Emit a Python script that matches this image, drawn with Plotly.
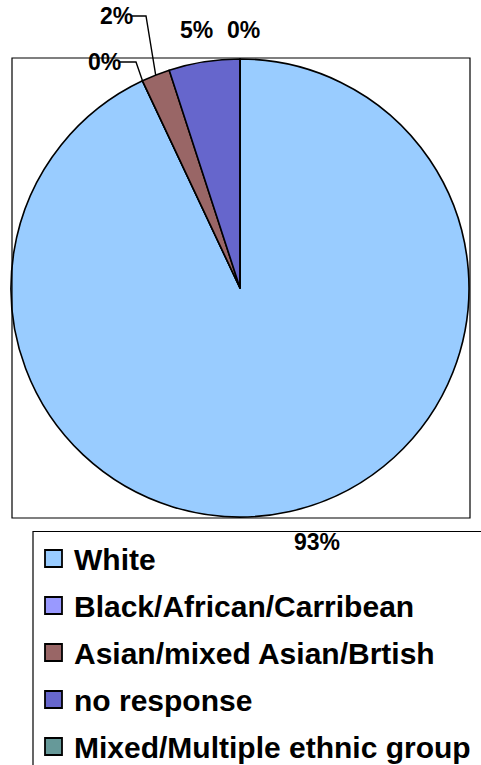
import math
import plotly.graph_objects as go

# Ethnic group breakdown (percent of respondents)
categories = [
    "White",
    "Black/African/Carribean",
    "Asian/mixed Asian/Brtish",
    "no response",
    "Mixed/Multiple ethnic group",
]
values = [93, 0, 2, 5, 0]
colors = ["#99CCFF", "#9999FF", "#996666", "#6666CC", "#669999"]

W, H = 481, 765
FONT = "Arial, Liberation Sans, sans-serif"

# plot area (pixels)
PX0, PY0, PX1, PY1 = 12, 58, 470, 518


def px(x):
    return x / W


def py(y):
    return 1 - y / H


total = sum(values)
pct = [f"{round(v / total * 100)}%" for v in values]

fig = go.Figure(
    go.Pie(
        labels=categories,
        values=values,
        sort=False,
        direction="clockwise",
        rotation=0,
        marker=dict(colors=colors, line=dict(color="black", width=1.6)),
        textinfo="none",
        hoverinfo="label+percent",
        showlegend=False,
        domain=dict(x=[px(PX0 - 1), px(PX1 - 1)], y=[py(PY1), py(PY0)]),
    )
)

# pie geometry in pixels, for anchoring leader lines on the rim
cx = (PX0 - 1 + PX1 - 1) / 2
cy = (PY0 + PY1) / 2
R = min(PX1 - PX0, PY1 - PY0) / 2


def rim_point(idx):
    start = sum(values[:idx]) / total * 360
    mid = start + values[idx] / total * 360 / 2
    a = math.radians(mid)
    return cx + R * math.sin(a), cy - R * math.cos(a)


shapes = []
annotations = []

# plot-area frame
shapes.append(dict(type="rect", xref="paper", yref="paper",
                   x0=px(PX0), y0=py(PY1), x1=px(PX1), y1=py(PY0),
                   line=dict(color="black", width=1.2), layer="above"))

# data labels: (index, label centre x, y, leader elbow x or None)
label_pos = [
    (0, 316.5, 542, None),
    (1, 104, 62, 136),
    (2, 116, 16, 146),
    (3, 196.5, 30, None),
    (4, 243, 30, None),
]
for idx, lx, ly, elbow in label_pos:
    annotations.append(dict(
        x=px(lx), y=py(ly), xref="paper", yref="paper",
        text=f"<b>{pct[idx]}</b>", showarrow=False,
        xanchor="center", yanchor="middle",
        font=dict(family=FONT, size=23, color="black"),
    ))
    if elbow is not None:
        rx, ry = rim_point(idx)
        sx = lx + 16
        path = (f"M {px(sx)} {py(ly)} L {px(elbow)} {py(ly)} "
                f"L {px(rx)} {py(ry)}")
        shapes.append(dict(type="path", xref="paper", yref="paper", path=path,
                           line=dict(color="black", width=1.4), layer="above"))

# legend frame (runs off the right and bottom edges)
shapes.append(dict(type="rect", xref="paper", yref="paper",
                   x0=px(33), y0=py(800), x1=px(520), y1=py(531.5),
                   line=dict(color="black", width=1.2)))

# legend entries
row0, row_gap = 558.5, 47
for i, (name, col) in enumerate(zip(categories, colors)):
    yc = row0 + i * row_gap
    shapes.append(dict(type="rect", xref="paper", yref="paper",
                       x0=px(45), x1=px(62), y0=py(yc + 8.5), y1=py(yc - 8.5),
                       fillcolor=col, line=dict(color="black", width=1.8)))
    annotations.append(dict(
        x=px(72), y=py(yc + 1), xref="paper", yref="paper",
        text=f"<b>{name}</b>", showarrow=False,
        xanchor="left", yanchor="middle",
        font=dict(family=FONT, size=30, color="black"),
    ))

fig.update_layout(
    width=W, height=H,
    margin=dict(l=0, r=0, t=0, b=0, autoexpand=False),
    paper_bgcolor="white", plot_bgcolor="white",
    shapes=shapes, annotations=annotations,
)

fig.write_html("out.html")
